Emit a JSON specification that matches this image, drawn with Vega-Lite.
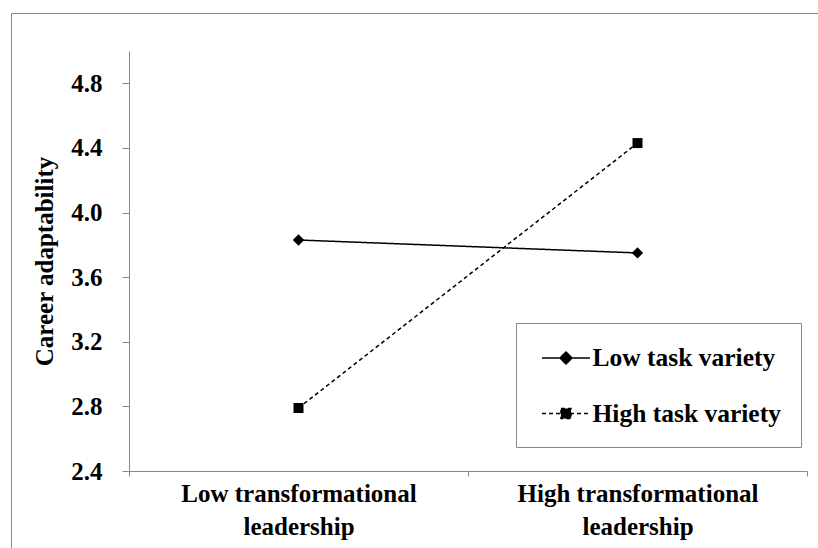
{
  "$schema": "https://vega.github.io/schema/vega-lite/v6.json",
  "width": 807,
  "height": 535,
  "autosize": "none",
  "padding": {"left": 11, "top": 13, "right": 0, "bottom": 0},
  "background": "white",
  "config": {"view": {"stroke": "#888888", "strokeWidth": 1}, "font": "Liberation Serif"},
  "data": {
    "values": [
      {"tl": "Low transformational leadership", "series": "Low task variety", "ca": 3.83},
      {"tl": "High transformational leadership", "series": "Low task variety", "ca": 3.75},
      {"tl": "Low transformational leadership", "series": "High task variety", "ca": 2.79},
      {"tl": "High transformational leadership", "series": "High task variety", "ca": 4.43}
    ]
  },
  "encoding": {
    "x": {
      "field": "tl",
      "type": "nominal",
      "sort": ["Low transformational leadership", "High transformational leadership"],
      "scale": {"type": "band", "paddingInner": 0, "paddingOuter": 0, "range": [118, 796]},
      "axis": {
        "title": null,
        "offset": -77,
        "labelAngle": 0,
        "labelLimit": 0,
        "tickBand": "extent",
        "tickSize": 5,
        "tickColor": "#888888",
        "domainColor": "#888888",
        "labelPadding": 5,
        "labelFont": "Liberation Serif",
        "labelFontSize": 25,
        "labelFontWeight": "bold",
        "labelColor": "black",
        "labelLineHeight": 33,
        "labelExpr": "[slice(datum.label, 0, lastindexof(datum.label, ' ')), slice(datum.label, lastindexof(datum.label, ' ') + 1)]"
      }
    },
    "y": {
      "field": "ca",
      "type": "quantitative",
      "scale": {"domain": [2.4, 5.0], "nice": false, "zero": false, "range": [458, 38]},
      "axis": {
        "offset": -118,
        "values": [2.4, 2.8, 3.2, 3.6, 4.0, 4.4, 4.8],
        "format": ".1f",
        "grid": false,
        "tickSize": 7,
        "tickColor": "#888888",
        "domainColor": "#888888",
        "labelPadding": 20,
        "labelFont": "Liberation Serif",
        "labelFontSize": 25,
        "labelFontWeight": "bold",
        "labelColor": "black",
        "title": "Career adaptability",
        "titleFont": "Liberation Serif",
        "titleFontSize": 25,
        "titleFontWeight": "bold",
        "titleColor": "black",
        "titlePadding": 13
      }
    }
  },
  "layer": [
    {
      "mark": {"type": "line", "color": "black", "strokeWidth": 1.5},
      "encoding": {
        "strokeDash": {
          "field": "series",
          "type": "nominal",
          "scale": {"domain": ["Low task variety", "High task variety"], "range": [[1, 0], [4, 3]]},
          "legend": {
            "title": null,
            "orient": "none",
            "legendX": 505,
            "legendY": 310,
            "strokeColor": "#888888",
            "padding": 20,
            "symbolSize": 784,
            "symbolOffset": 15,
            "symbolStrokeWidth": 1.5,
            "symbolStrokeColor": "black",
            "symbolFillColor": "black",
            "labelLimit": 0,
            "labelFont": "Liberation Serif",
            "labelFontSize": 25.5,
            "labelFontWeight": "bold",
            "labelColor": "black",
            "labelOffset": 11.5,
            "rowPadding": 26.5,
            "encode": {
              "symbols": {
                "update": {
                  "shape": {"signal": "datum.value === 'Low task variety' ? 'M-1.714,0L1.714,0M0,-0.43L0.43,0L0,0.43L-0.43,0Z' : 'M-1.714,0L1.714,0M-0.36,-0.36L0.36,-0.36L0.36,0.36L-0.36,0.36Z'"},
                  "fill": {"value": "black"},
                  "stroke": {"value": "black"},
                  "opacity": {"value": 1}
                }
              }
            }
          }
        }
      }
    },
    {
      "mark": {"type": "point", "filled": true, "color": "black", "opacity": 1},
      "encoding": {
        "shape": {
          "condition": {"test": "datum.series === 'Low task variety'", "value": "diamond"},
          "value": "square"
        },
        "size": {
          "condition": {"test": "datum.series === 'Low task variety'", "value": 130},
          "value": 100
        }
      }
    }
  ]
}
